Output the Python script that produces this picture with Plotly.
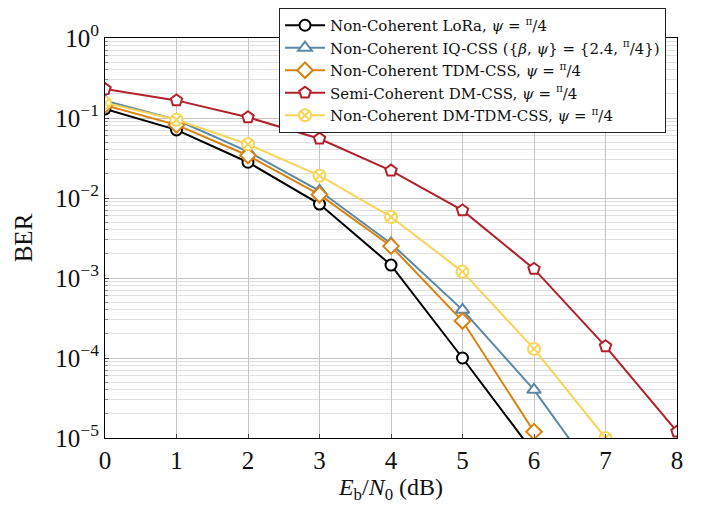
import plotly.graph_objects as go

snr = [0, 1, 2, 3, 4, 5, 6, 7, 8]

lora = [0.13, 0.071, 0.028, 0.0084, 0.00145, 1.0e-4, 6.5e-6]
iq_css = [0.165, 0.095, 0.038, 0.0123, 0.0027, 4.0e-4, 4.0e-5, 2.3e-6]
tdm_css = [0.145, 0.082, 0.034, 0.011, 0.0025, 2.9e-4, 1.2e-5]
dm_css = [0.23, 0.166, 0.102, 0.055, 0.022, 0.0070, 0.0013, 1.4e-4, 1.2e-5]
dm_tdm_css = [0.155, 0.095, 0.047, 0.019, 0.0058, 0.0012, 1.3e-4, 1.0e-5]

names = [
    "Non-Coherent LoRa, <i>ψ</i> = <sup>π</sup>/4",
    "Non-Coherent IQ-CSS ({<i>β</i>, <i>ψ</i>} = {2.4, <sup>π</sup>/4})",
    "Non-Coherent TDM-CSS, <i>ψ</i> = <sup>π</sup>/4",
    "Semi-Coherent DM-CSS, <i>ψ</i> = <sup>π</sup>/4",
    "Non-Coherent DM-TDM-CSS, <i>ψ</i> = <sup>π</sup>/4",
]
series = [lora, iq_css, tdm_css, dm_css, dm_tdm_css]
colors = ["#000000", "#5b88a8", "#d9820f", "#b3202a", "#f8d558"]
symbols = ["circle", "triangle-up", "diamond", "pentagon", "circle-x"]
sizes = [11, 12, 12, 12, 12]

ytick_vals = [1, 0.1, 0.01, 0.001, 1e-4, 1e-5]
ytick_text = ["10<sup>0</sup>", "10<sup>−1</sup>", "10<sup>−2</sup>", "10<sup>−3</sup>",
              "10<sup>−4</sup>", "10<sup>−5</sup>"]

font_family = "Liberation Serif, DejaVu Serif, serif"

fig = go.Figure()
for name, ys, c, s, sz in zip(names, series, colors, symbols, sizes):
    fig.add_trace(go.Scatter(
        x=snr[:len(ys)], y=ys, name=name, mode="lines+markers",
        line=dict(color=c, width=2),
        marker=dict(symbol=s, size=sz, color="white", line=dict(color=c, width=2)),
    ))

fig.update_layout(
    width=702, height=512,
    margin=dict(l=97, r=33, t=30, b=82, autoexpand=False),
    paper_bgcolor="white", plot_bgcolor="white",
    font=dict(family=font_family, color="#111111", size=20),
    showlegend=True,
    legend=dict(
        xref="container", yref="container",
        x=658 / 702, y=1.0, xanchor="right", yanchor="top",
        bgcolor="white", bordercolor="#222222", borderwidth=1,
        font=dict(size=15, family="DejaVu Serif, serif"),
        tracegroupgap=0, itemwidth=40,
    ),
)
fig.update_xaxes(
    range=[0, 8], tickvals=list(range(9)),
    showgrid=True, gridcolor="#c4c4c4", gridwidth=1,
    showline=True, linecolor="black", linewidth=1.2, mirror=True,
    ticks="inside", ticklen=4, tickcolor="#444444",
    tickfont=dict(size=25), zeroline=False,
    title=dict(text="<i>E</i><sub>b</sub>/<i>N</i><sub>0</sub> (dB)", font=dict(size=24), standoff=4),
)
fig.update_yaxes(
    type="log", range=[-5, 0], tickvals=ytick_vals, ticktext=ytick_text,
    showgrid=True, gridcolor="#c4c4c4", gridwidth=1,
    showline=True, linecolor="black", linewidth=1.2, mirror=True,
    ticks="inside", ticklen=4, tickcolor="#444444",
    tickfont=dict(size=25), zeroline=False,
    minor=dict(dtick="D1", showgrid=True, gridcolor="#e0e0e0", ticks="inside", ticklen=3, tickcolor="#888888"),
    title=dict(text="BER", font=dict(size=25), standoff=15),
)

fig.write_html("out.html")
